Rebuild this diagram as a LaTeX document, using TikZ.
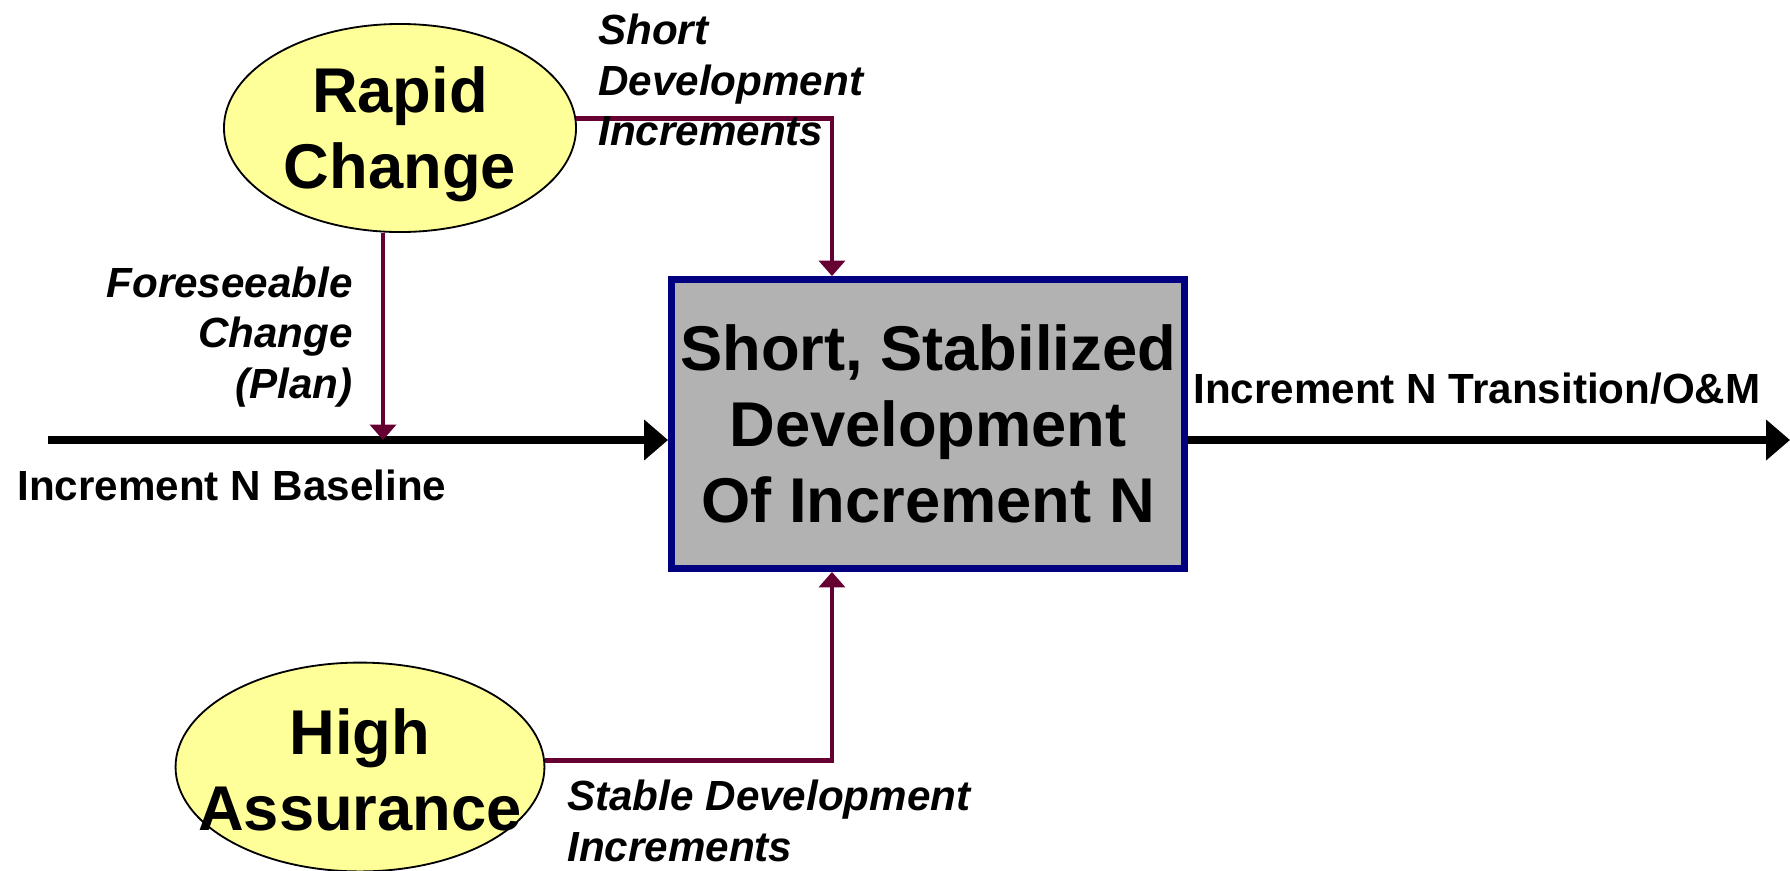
\documentclass[tikz,border=0pt]{standalone}
\usepackage{fontspec}
\setmainfont{Liberation Sans}
\usepackage{tikz}
\usetikzlibrary{shapes}
\usetikzlibrary{arrows.meta,calc}
\definecolor{maroon}{RGB}{102,0,51}
\definecolor{paleyellow}{RGB}{255,255,153}
\definecolor{navy}{RGB}{0,0,128}
\definecolor{boxgray}{RGB}{178,178,178}
\newcommand{\largebold}{\fontsize{45}{54}\selectfont\bfseries}
\newcommand{\smallital}{\fontsize{30}{36}\selectfont\bfseries\itshape}
\newcommand{\smallbold}{\fontsize{30}{36}\selectfont\bfseries}
\tikzstyle{Estate}=[shape=ellipse,draw=black,line width=1.3pt,fill=paleyellow,inner sep=0pt]
\tikzstyle{Bstate}=[shape=rectangle,draw=navy,line width=5pt,fill=boxgray,align=center,font=\largebold]
\tikzstyle{bigtext}=[align=center,font=\largebold,inner sep=0pt]
\tikzstyle{note}=[font=\smallital,inner sep=0pt]
\tikzstyle{flowtext}=[font=\smallbold,inner sep=0pt,anchor=west]
\tikzstyle{heavyedge}=[-{Triangle[length=17pt,width=28pt]},line width=5.5pt]
\tikzstyle{feededge}=[-{Triangle[length=11pt,width=18.5pt]},line width=3.4pt,draw=maroon]

\begin{document}
\begin{tikzpicture}[x=0.025cm,y=-0.025cm]
 \useasboundingbox (0,0) rectangle (1790,870);

 \node[Bstate,minimum width=12.82cm,minimum height=7.22cm] (dev) at (928,424) {Short, Stabilized\\Development\\Of Increment N};

 \node[Estate,minimum width=8.8cm,minimum height=5.2cm] (rapid) at (400,128) {};
 \node[bigtext] (rapidtxt) at (400,134) {Rapid\\Change};

 \node[Estate,minimum width=9.22cm,minimum height=5.22cm] (assure) at (360,767) {};
 \node[bigtext] (assuretxt) at (360,770) {High\\Assurance};

 \coordinate (basestart) at (48,440);
 \coordinate (outend) at (1790,440);
 \coordinate (forefoot) at (383,440);

\path
(basestart) edge [heavyedge] (basestart -| dev.west)
(basestart -| dev.east) edge [heavyedge] (outend);

\draw[feededge] (rapid.south -| forefoot) -- (forefoot);
\draw[feededge] (rapid.3) -| ([xshift=-2.4cm]dev.north);
\draw[feededge] (assure.2) -| ([xshift=-2.4cm]dev.south);

 \node[note,align=left,anchor=west] (shortlbl) at (598,80) {Short\\Development\\Increments};
 \node[note,align=right,anchor=east] (forelbl) at (353,337) {Foreseeable\\Change\\(Plan)};
 \node[note,align=left,anchor=west] (stablelbl) at (567,821) {Stable Development\\Increments};
 \node[flowtext] (baselbl) at (17,485) {Increment N Baseline};
 \node[flowtext] (outlbl) at (1193,389) {Increment N Transition/O\&M};

\end{tikzpicture}
\end{document}
